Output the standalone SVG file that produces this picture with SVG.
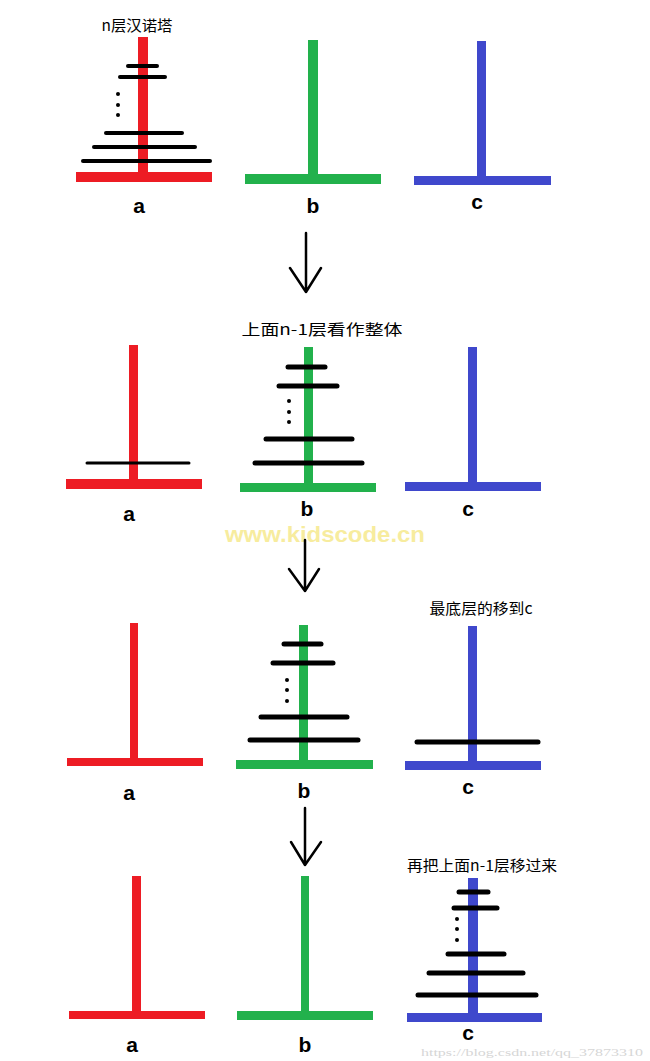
<svg xmlns="http://www.w3.org/2000/svg" width="650" height="1061" viewBox="0 0 650 1061">
<style>
.red{fill:#ed1c24}
.green{fill:#22b14c}
.blue{fill:#3f48cc}
.disk{stroke:#000;stroke-width:4;stroke-linecap:round}
.thick{stroke-width:5}
.thin{stroke-width:3}
.dot{fill:#000}
.lbl{font-family:"Liberation Sans","Noto Sans",sans-serif;font-weight:bold;font-size:21px;fill:#000;text-anchor:middle}
.ttl{font-family:"Noto Sans CJK SC","Liberation Sans",sans-serif;font-size:15px;fill:#000;text-anchor:middle}
.arrow{stroke:#000;stroke-width:2.5;fill:none;stroke-linecap:round;stroke-linejoin:round}
</style>
<rect width="650" height="1061" fill="#fff"/>

<!-- Row 1 -->
<g id="title1"><text class="ttl" x="137" y="31" textLength="71" lengthAdjust="spacingAndGlyphs">n层汉诺塔</text></g>
<g id="r1a">
<rect class="red" x="138" y="37" width="10" height="140"/>
<rect class="red" x="76" y="172" width="136" height="10"/>
<line class="disk" x1="128" y1="66" x2="157" y2="66"/>
<line class="disk" x1="120" y1="77" x2="165" y2="77"/>
<circle class="dot" cx="118" cy="94" r="2"/><circle class="dot" cx="118" cy="105" r="2"/><circle class="dot" cx="118" cy="115" r="2"/>
<line class="disk" x1="106" y1="133" x2="182" y2="133"/>
<line class="disk" x1="94" y1="147" x2="195" y2="147"/>
<line class="disk" x1="83" y1="161" x2="210" y2="161"/>
<text class="lbl" x="139" y="213">a</text>
</g>
<g id="r1b">
<rect class="green" x="308" y="40" width="10" height="140"/>
<rect class="green" x="245" y="174" width="136" height="10"/>
<text class="lbl" x="313" y="213">b</text>
</g>
<g id="r1c">
<rect class="blue" x="477" y="41" width="9" height="140"/>
<rect class="blue" x="414" y="176" width="137" height="9"/>
<text class="lbl" x="477" y="209">c</text>
</g>

<!-- Row 2 -->
<g id="title2"><text class="ttl" x="322" y="335" textLength="161" lengthAdjust="spacingAndGlyphs">上面n-1层看作整体</text></g>
<g id="r2a">
<rect class="red" x="129" y="345" width="9" height="140"/>
<rect class="red" x="66" y="479" width="136" height="10"/>
<line class="disk thin" x1="87" y1="463" x2="189" y2="463"/>
<text class="lbl" x="129" y="521">a</text>
</g>
<g id="r2b">
<rect class="green" x="304" y="347" width="9" height="140"/>
<rect class="green" x="240" y="483" width="136" height="9"/>
<line class="disk thick" x1="288" y1="367" x2="325" y2="367"/>
<line class="disk thick" x1="279" y1="386" x2="337" y2="386"/>
<circle class="dot" cx="289" cy="401" r="2"/><circle class="dot" cx="289" cy="412" r="2"/><circle class="dot" cx="289" cy="422" r="2"/>
<line class="disk thick" x1="266" y1="439" x2="352" y2="439"/>
<line class="disk thick" x1="255" y1="463" x2="362" y2="463"/>
<text class="lbl" x="307" y="516">b</text>
</g>
<g id="r2c">
<rect class="blue" x="468" y="347" width="9" height="140"/>
<rect class="blue" x="405" y="482" width="136" height="9"/>
<text class="lbl" x="468" y="516">c</text>
</g>

<!-- watermark -->
<text x="325" y="542" font-family="Liberation Sans, sans-serif" font-weight="bold" font-size="22" fill="#f7ec9e" text-anchor="middle" textLength="200" lengthAdjust="spacingAndGlyphs">www.kidscode.cn</text>

<!-- Row 3 -->
<g id="title3"><text class="ttl" x="481" y="614" textLength="103" lengthAdjust="spacingAndGlyphs">最底层的移到c</text></g>
<g id="r3a">
<rect class="red" x="130" y="623" width="8" height="140"/>
<rect class="red" x="67" y="758" width="136" height="8"/>
<text class="lbl" x="129" y="800">a</text>
</g>
<g id="r3b">
<rect class="green" x="299" y="625" width="9" height="140"/>
<rect class="green" x="236" y="760" width="137" height="9"/>
<line class="disk thick" x1="284" y1="644" x2="321" y2="644"/>
<line class="disk thick" x1="273" y1="663" x2="333" y2="663"/>
<circle class="dot" cx="287" cy="680" r="2"/><circle class="dot" cx="287" cy="690" r="2"/><circle class="dot" cx="287" cy="701" r="2"/>
<line class="disk thick" x1="261" y1="717" x2="347" y2="717"/>
<line class="disk thick" x1="250" y1="740" x2="358" y2="740"/>
<text class="lbl" x="304" y="798">b</text>
</g>
<g id="r3c">
<rect class="blue" x="468" y="626" width="9" height="140"/>
<rect class="blue" x="405" y="761" width="136" height="9"/>
<line class="disk thick" x1="417" y1="742" x2="538" y2="742"/>
<text class="lbl" x="468" y="794">c</text>
</g>

<!-- Row 4 -->
<g id="title4"><text class="ttl" x="482" y="871" textLength="150" lengthAdjust="spacingAndGlyphs">再把上面n-1层移过来</text></g>
<g id="r4a">
<rect class="red" x="132" y="876" width="9" height="140"/>
<rect class="red" x="69" y="1011" width="136" height="8"/>
<text class="lbl" x="132" y="1052">a</text>
</g>
<g id="r4b">
<rect class="green" x="301" y="876" width="8" height="140"/>
<rect class="green" x="237" y="1011" width="136" height="9"/>
<text class="lbl" x="305" y="1052">b</text>
</g>
<g id="r4c">
<rect class="blue" x="468" y="878" width="10" height="140"/>
<rect class="blue" x="407" y="1013" width="135" height="9"/>
<line class="disk thick" x1="459" y1="892" x2="488" y2="892"/>
<line class="disk thick" x1="454" y1="908" x2="497" y2="908"/>
<circle class="dot" cx="457" cy="919" r="2"/><circle class="dot" cx="457" cy="929" r="2"/><circle class="dot" cx="457" cy="940" r="2"/>
<line class="disk thick" x1="448" y1="954" x2="504" y2="954"/>
<line class="disk thick" x1="429" y1="973" x2="523" y2="973"/>
<line class="disk thick" x1="418" y1="995" x2="536" y2="995"/>
<text class="lbl" x="468" y="1040">c</text>
</g>

<!-- connectors -->
<g id="connectors">
<path class="arrow" d="M306 233 V292 M290 268 L306 292 L321 268"/>
<path class="arrow" d="M305 540 V591 M289 569 L305 591 L319 569"/>
<path class="arrow" d="M305 808 V865 M291 842 L305 865 L321 842"/>
</g>

<!-- bottom watermark -->
<text x="643" y="1056" font-family="Liberation Serif, serif" font-size="11" fill="#d6d6d6" text-anchor="end" textLength="222" lengthAdjust="spacingAndGlyphs">https://blog.csdn.net/qq_37873310</text>
</svg>
